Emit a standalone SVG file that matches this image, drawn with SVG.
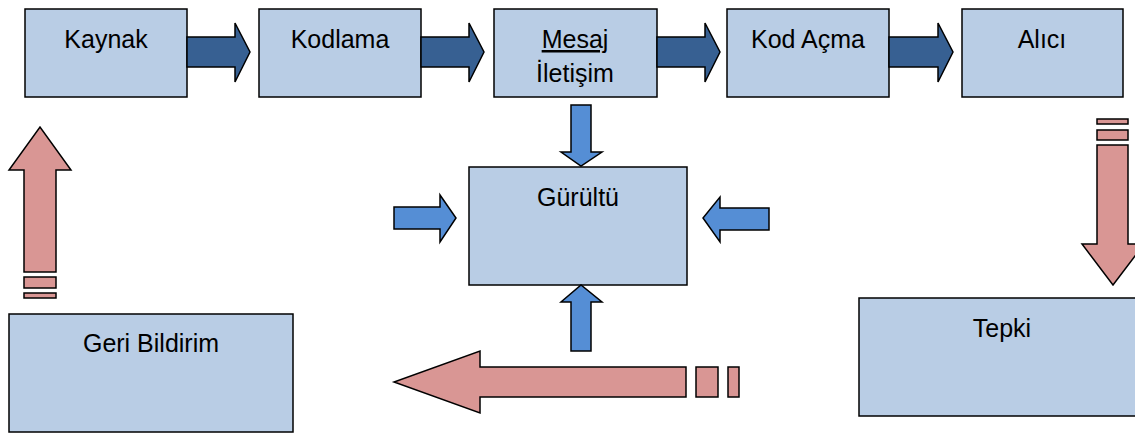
<svg xmlns="http://www.w3.org/2000/svg" width="1135" height="434" viewBox="0 0 1135 434">
<style>
.box{fill:#B9CDE5;stroke:#000;stroke-width:1.5}
.dark{fill:#376092;stroke:#000;stroke-width:1.5;stroke-linejoin:miter}
.blue{fill:#558ED5;stroke:#000;stroke-width:1.5}
.pink{fill:#D99694;stroke:#000;stroke-width:1.5}
text{font-family:"Liberation Sans",Arial,sans-serif;font-size:25px;fill:#000;text-anchor:middle}
</style>
<rect width="1135" height="434" fill="#fff"/>
<g id="kaynak"><rect class="box" x="25" y="9" width="162" height="88"/><text x="106" y="48">Kaynak</text></g>
<g id="kodlama"><rect class="box" x="259" y="9" width="162" height="88"/><text x="340" y="48">Kodlama</text></g>
<g id="mesaj"><rect class="box" x="494" y="9" width="163" height="88"/><text x="575" y="48" text-decoration="underline">Mesaj</text><text x="575" y="82">İletişim</text></g>
<g id="kodacma"><rect class="box" x="727" y="9" width="162" height="88"/><text x="808" y="48">Kod Açma</text></g>
<g id="alici"><rect class="box" x="962" y="9" width="161" height="88"/><text x="1042" y="48">Alıcı</text></g>
<g id="gurultu"><rect class="box" x="469" y="167" width="218" height="118"/><text x="578" y="206">Gürültü</text></g>
<g id="geribildirim"><rect class="box" x="9" y="314" width="284" height="118"/><text x="151" y="352">Geri Bildirim</text></g>
<g id="tepki"><rect class="box" x="859" y="298" width="290" height="118"/><text x="1002" y="337">Tepki</text></g>
<g id="connectors">
<polygon class="dark" points="187,37 235,37 235,23 250,52 235,82 235,67 187,67"/>
<polygon class="dark" points="421,37 469,37 469,23 484,52 469,82 469,67 421,67"/>
<polygon class="dark" points="657,37 705,37 705,23 720,52 705,82 705,67 657,67"/>
<polygon class="dark" points="889,37 938,37 938,23 953,52 938,82 938,67 889,67"/>
<polygon class="blue" points="571,105 591,105 591,152 602,152 581,166 561,152 571,152"/>
<polygon class="blue" points="571,351 591,351 591,302 602,302 581,285 561,302 571,302"/>
<polygon class="blue" points="394,207 440,207 440,195 456,218 440,242 440,229 394,229"/>
<polygon class="blue" points="769,208 720,208 720,197 703,218 720,242 720,230 769,230"/>
<polygon class="pink" points="24,272 24,170 9,170 40,127 71,170 56,170 56,272"/>
<rect class="pink" x="24" y="277" width="32" height="11"/>
<rect class="pink" x="24" y="293" width="32" height="5"/>
<polygon class="pink" points="1097,145 1128,145 1128,244 1144,244 1113,285 1082,244 1097,244"/>
<rect class="pink" x="1097" y="130" width="31" height="10"/>
<rect class="pink" x="1097" y="119" width="31" height="5"/>
<polygon class="pink" points="686,367 480,367 480,351 394,382 480,413 480,397 686,397"/>
<rect class="pink" x="696" y="367" width="22" height="30"/>
<rect class="pink" x="728" y="367" width="11" height="30"/>
</g>
</svg>
